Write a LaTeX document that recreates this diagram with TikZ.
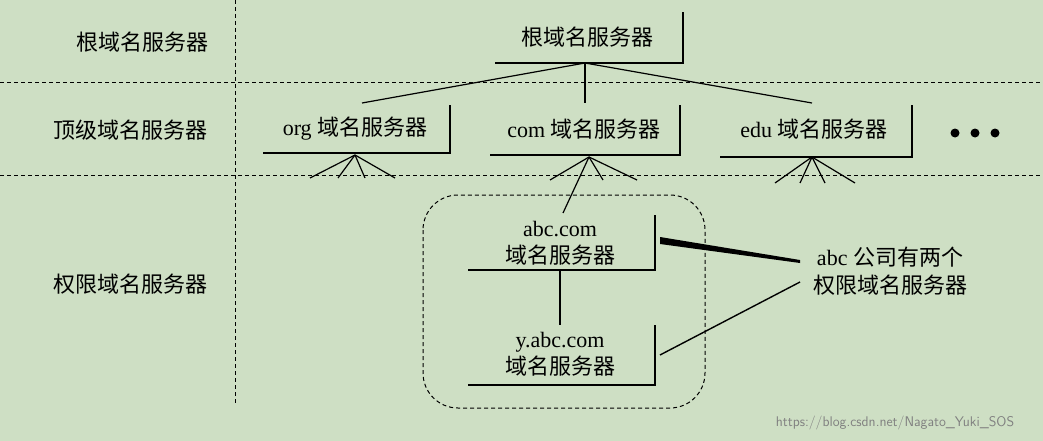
\documentclass[tikz,border=0pt]{standalone}
\usepackage{fontspec}
\setmainfont{Liberation Serif}
\newfontfamily\cjk{Noto Sans CJK SC}
\newcommand{\zh}[1]{{\cjk #1}}
\definecolor{bg}{RGB}{206,223,196}
\begin{document}
\begin{tikzpicture}[x=1pt,y=-1pt,
  lab/.style={font=\fontsize{22}{25}\selectfont,align=center,inner sep=0pt},
  dl/.style={dashed,line width=1pt,dash pattern=on 4pt off 3pt},
  edge/.style={line width=1.2pt},
  shad/.style={line width=2pt}]
\fill[bg] (0,0) rectangle (1043,441);
\useasboundingbox (0,0) rectangle (1043,441);
% dashed grid
\draw[dl] (235,0) -- (235,405);
\draw[dl] (0,83) -- (1043,83);
\draw[dl] (0,175) -- (1043,175);
% left labels
\node[lab] (L1) at (142,42) {\zh{根域名服务器}};
\node[lab] (L2) at (130,130) {\zh{顶级域名服务器}};
\node[lab] (L3) at (130,284) {\zh{权限域名服务器}};
% boxes
\node[lab] (root) at (587,37) {\zh{根域名服务器}};
\draw[shad] (495,63) -- (683,63) -- (683,12);
\node[lab] (org) at (355,129) {org \zh{域名服务器}};
\draw[shad] (263,153) -- (450,153) -- (450,105);
\node[lab] (com) at (584,129) {com \zh{域名服务器}};
\draw[shad] (490,155) -- (680,155) -- (680,105);
\node[lab] (edu) at (814,129) {edu \zh{域名服务器}};
\draw[shad] (720,157) -- (912,157) -- (912,105);
\foreach \x in {955,975,995} \fill (\x,133) circle (4.5);
% root connectors
\coordinate (r0) at (585,63);
\draw[edge] (r0) -- (362,103);
\draw[edge] (r0) -- (585,103);
\draw[edge] (r0) -- (812,103);
% fans
\coordinate (fo) at (355,155);
\foreach \x in {310,338,365,395} \draw[edge] (fo) -- (\x,178);
\coordinate (fc) at (589,157);
\foreach \x in {550,603,637} \draw[edge] (fc) -- (\x,180);
\coordinate (fe) at (812,157);
\foreach \x in {775,800,825,855} \draw[edge] (fe) -- (\x,183);
% authoritative zone
\draw[dl,rounded corners=35pt] (423,195) rectangle (705,408);
\node[lab] (abc) at (560,243) {abc.com\\[2pt]\zh{域名服务器}};
\draw[shad] (468,270) -- (655,270) -- (655,215);
\node[lab] (yabc) at (560,354) {y.abc.com\\[2pt]\zh{域名服务器}};
\draw[shad] (468,385) -- (655,385) -- (655,325);
\draw[edge] (fc) -- (563,213);
\draw[edge] (560,270) -- (560,325);
% note
\node[lab] (note) at (890,271) {abc \zh{公司有两个}\\[3pt]\zh{权限域名服务器}};
\fill (660,237) -- (800,260) -- (800,263) -- (660,244) -- cycle;
\draw[line width=1.4pt] (660,355) -- (800,282);
\node[font=\fontsize{14}{16}\selectfont\sffamily,text=gray] (wm) at (895,423) {https://blog.csdn.net/Nagato\_Yuki\_SOS};
\end{tikzpicture}
\end{document}
